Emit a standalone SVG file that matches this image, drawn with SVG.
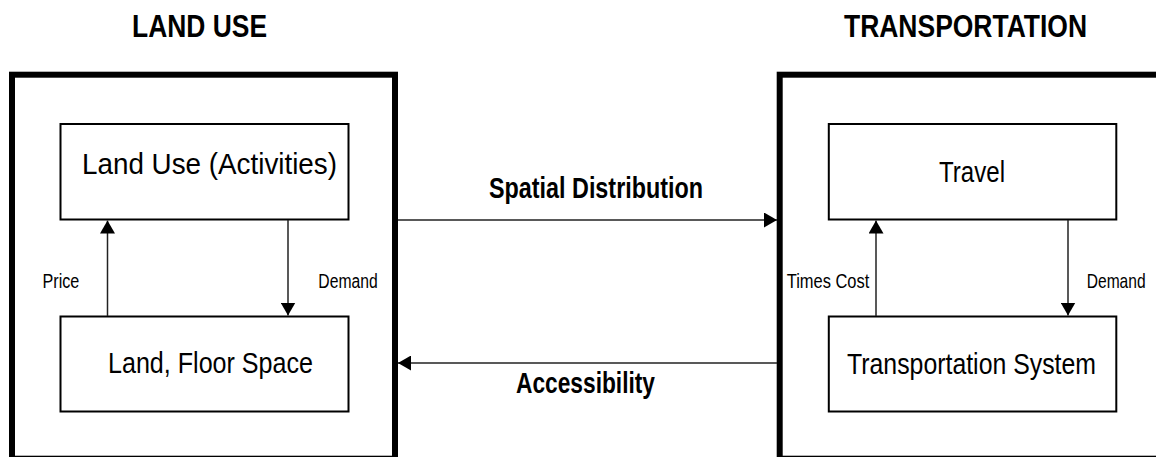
<svg xmlns="http://www.w3.org/2000/svg" width="1156" height="457" viewBox="0 0 1156 457">
  <style>
    .outer { fill: none; stroke: #000; stroke-width: 6; }
    .box { fill: #fff; stroke: #000; stroke-width: 2; }
    .conn { stroke: #222; stroke-width: 1.5; fill: none; }
    text { font-family: "Liberation Sans Narrow", "Liberation Sans", Arial, sans-serif; fill: #000; }
    .title { font-size: 32px; font-weight: bold; }
    .lbl { font-size: 29px; }
    .blbl { font-size: 29px; font-weight: bold; }
    .small { font-size: 20px; }
  </style>
  <defs>
    <marker id="arr" markerUnits="userSpaceOnUse" markerWidth="13" markerHeight="15" refX="13" refY="7.5" orient="auto">
      <path d="M0,0 L13,7.5 L0,15 z" fill="#000"/>
    </marker>
  </defs>
  <rect width="1156" height="457" fill="#fff"/>

  <g id="land-use-group">
    <rect class="outer" x="12" y="74.7" width="383" height="384"/>
    <text class="title" x="132" y="37" textLength="135" lengthAdjust="spacingAndGlyphs">LAND USE</text>
  </g>
  <g id="transportation-group">
    <rect class="outer" x="779.7" y="74.7" width="400" height="384"/>
    <text class="title" x="844" y="37" textLength="243" lengthAdjust="spacingAndGlyphs">TRANSPORTATION</text>
  </g>

  <g id="activities">
    <rect class="box" x="60.5" y="124" width="288" height="95.5"/>
    <text class="lbl" x="82" y="174" textLength="255" lengthAdjust="spacingAndGlyphs">Land Use (Activities)</text>
  </g>
  <g id="floor-space">
    <rect class="box" x="60.5" y="316.5" width="288" height="95"/>
    <text class="lbl" x="108" y="373" textLength="205" lengthAdjust="spacingAndGlyphs">Land, Floor Space</text>
  </g>
  <g id="travel">
    <rect class="box" x="828.8" y="124" width="287.5" height="95.5"/>
    <text class="lbl" x="939" y="182" textLength="66" lengthAdjust="spacingAndGlyphs">Travel</text>
  </g>
  <g id="transport-system">
    <rect class="box" x="828.8" y="316.5" width="287.5" height="95"/>
    <text class="lbl" x="847" y="374" textLength="249" lengthAdjust="spacingAndGlyphs">Transportation System</text>
  </g>

  <g id="connectors">
    <line class="conn" x1="107.5" y1="316" x2="107.5" y2="220.5" marker-end="url(#arr)"/>
    <line class="conn" x1="288" y1="220" x2="288" y2="315.5" marker-end="url(#arr)"/>
    <line class="conn" x1="876" y1="316" x2="876" y2="220.5" marker-end="url(#arr)"/>
    <line class="conn" x1="1068" y1="220" x2="1068" y2="315.5" marker-end="url(#arr)"/>
    <line class="conn" x1="398" y1="220" x2="777" y2="220" marker-end="url(#arr)"/>
    <line class="conn" x1="777" y1="363" x2="398" y2="363" marker-end="url(#arr)"/>
    <text class="small" x="42.5" y="287.5" textLength="36.8" lengthAdjust="spacingAndGlyphs">Price</text>
    <text class="small" x="318.3" y="287.5" textLength="59.4" lengthAdjust="spacingAndGlyphs">Demand</text>
    <text class="small" x="786.7" y="287.5" textLength="82.6" lengthAdjust="spacingAndGlyphs">Times Cost</text>
    <text class="small" transform="translate(1086.7,287.5) scale(0.78,1)" x="0" y="0">Demand</text>
    <text class="blbl" x="489" y="198" textLength="214" lengthAdjust="spacingAndGlyphs">Spatial Distribution</text>
    <text class="blbl" x="516" y="393" textLength="139" lengthAdjust="spacingAndGlyphs">Accessibility</text>
  </g>
</svg>
